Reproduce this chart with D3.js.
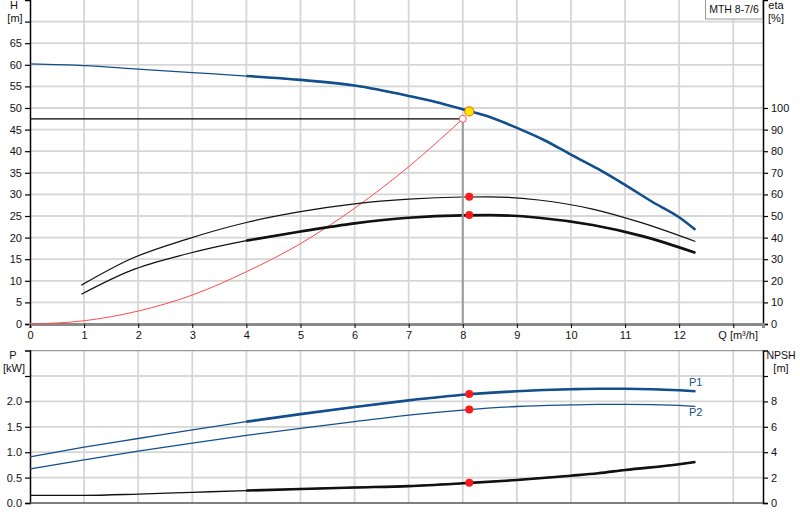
<!DOCTYPE html>
<html>
  <head>
    <title>MTH 8-7/6</title>
    <script src="https://d3js.org/d3.v7.min.js"></script>
    <style>
      body { margin: 0; background: #fff; }
      text { font-family: "Liberation Sans", Arial, sans-serif; font-size: 11px; fill: #111; }
      .grid line { stroke: #d6d6d6; stroke-width: 1.8; }
    </style>
  </head>
  <body>
    <svg width="800" height="520"></svg>
    <script>
      // pump head curve
      const qHead = [0, 1, 2, 3, 4, 5, 6, 7, 7.5, 8, 8.5, 9, 9.5, 10, 10.5, 11, 11.5, 12, 12.3];
      const head = [60.2, 59.8, 59.0, 58.2, 57.4, 56.5, 55.2, 52.8, 51.4, 49.7, 47.9, 45.4, 42.6, 39.2, 35.9, 32.2, 28.3, 24.7, 21.8];
      // efficiency curves [%]
      const qEta = [0.95, 1.85, 2.89, 4, 5, 6, 7, 8, 8.5, 9.4, 10.4, 11.3, 12.3];
      const etaPump = [18, 30, 39.2, 47, 52, 55.6, 57.8, 58.8, 58.9, 57.4, 53.2, 46.9, 38.2];
      const etaTotal = [13.8, 24.6, 32.4, 38.6, 42.8, 46.6, 49.2, 50.3, 50.4, 49.2, 45.8, 40.8, 33];
      // system curve
      const qSys = [0, 1, 2, 3, 4, 5, 6, 7, 8];
      const hSys = [0, 0.75, 3.0, 6.7, 12.1, 18.6, 26.8, 36.4, 47.5];
      // power and NPSH
      const qPow = [0, 1, 2, 3, 4, 5, 6, 7, 8, 9, 10, 10.5, 11, 12, 12.3];
      const p1 = [0.91, 1.10, 1.27, 1.44, 1.60, 1.75, 1.89, 2.02, 2.13, 2.20, 2.24, 2.25, 2.25, 2.22, 2.20];
      const p2 = [0.67, 0.85, 1.02, 1.18, 1.33, 1.47, 1.60, 1.73, 1.83, 1.90, 1.93, 1.94, 1.94, 1.92, 1.90];
      const npsh = [0.6, 0.6, 0.7, 0.84, 0.98, 1.1, 1.22, 1.33, 1.55, 1.81, 2.15, 2.34, 2.6, 3.05, 3.23];
      // duty point
      const dutyQ = 8.12, dutyH = 49.2, dutyEtaPump = 58.9, dutyEtaTotal = 50.5;
      const dutyP1 = 2.146, dutyP2 = 1.84, dutyNpsh = 1.6;
      const reqQ = 8.0, reqH = 47.5;
      const qTicks = d3.range(0, 13);
      const etaTicks = d3.range(0, 110, 10);
      const pTicks = [0, 0.5, 1, 1.5, 2];
      const npshTicks = [0, 2, 4, 6, 8];
      const thickFrom = 4;

      const blue = "#134f8d";
      const svg = d3.select("svg");
      const x = d3.scaleLinear().domain([0, 13.55]).range([30, 763]);
      const yH = d3.scaleLinear().domain([0, 75]).range([324, 0]);
      const yEta = d3.scaleLinear().domain([0, 150]).range([324, 0]);
      const yP = d3.scaleLinear().domain([0, 3]).range([503, 350.6]);
      const yN = d3.scaleLinear().domain([0, 12]).range([503, 350.6]);

      // grids
      function grid(yScale, yVals, y0, y1) {
        const g = svg.append("g").attr("class", "grid");
        g.selectAll(".v").data(d3.range(1, 14)).enter().append("line")
          .attr("x1", d => x(d)).attr("x2", d => x(d)).attr("y1", y0).attr("y2", y1);
        g.selectAll(".h").data(yVals).enter().append("line")
          .attr("x1", x(0)).attr("x2", 763).attr("y1", d => yScale(d)).attr("y2", d => yScale(d));
      }
      grid(yH, d3.range(5, 75, 5), 0, 324);
      grid(yP, [0.5, 1, 1.5, 2, 2.5], 350.6, 503);
      svg.append("line").attr("x1", 30).attr("x2", 763).attr("y1", 350.6).attr("y2", 350.6)
        .attr("stroke", "#999").attr("stroke-width", 1.2);

      // axes
      const axisH = svg.append("g").attr("transform", "translate(30,0)")
        .call(d3.axisLeft(yH).tickValues(d3.range(0, 75, 5)).tickSize(5).tickPadding(3)
          .tickFormat(d => d <= 65 ? d : ""));
      const axisEta = svg.append("g").attr("transform", "translate(763,0)")
        .call(d3.axisRight(yEta).tickValues(etaTicks).tickSize(5).tickPadding(3));
      const axisP = svg.append("g").attr("transform", "translate(30,0)")
        .call(d3.axisLeft(yP).tickValues([0, 0.5, 1, 1.5, 2, 2.5]).tickSize(5).tickPadding(3)
          .tickFormat(d => pTicks.includes(d) ? d3.format(".1f")(d) : ""));
      const axisN = svg.append("g").attr("transform", "translate(763,0)")
        .call(d3.axisRight(yN).tickValues([0, 2, 4, 6, 8, 10]).tickSize(5).tickPadding(3)
          .tickFormat(d => npshTicks.includes(d) ? d : ""));
      [axisH, axisEta, axisP, axisN].forEach(a => {
        a.select(".domain").attr("stroke", "#000").attr("stroke-width", 1.5);
        a.selectAll(".tick line").attr("stroke", "#000").attr("stroke-width", 1.2);
        a.selectAll("text").style("font-size", "11px").attr("fill", "#111");
      });
      const axisQ = svg.append("g").attr("transform", "translate(0,324)")
        .call(d3.axisBottom(x).tickValues(d3.range(0, 14)).tickSize(4).tickPadding(3)
          .tickFormat(d => qTicks.includes(d) ? d : ""));
      axisQ.select(".domain").attr("stroke", "#8a8a8a").attr("stroke-width", 3);
      axisQ.selectAll(".tick line").attr("stroke", "#000");
      axisQ.selectAll("text").style("font-size", "11px").attr("fill", "#111");
      svg.append("line").attr("x1", 30).attr("x2", 763).attr("y1", 503).attr("y2", 503)
        .attr("stroke", "#555").attr("stroke-width", 1.5);

      // axis titles
      const label = (tx, ty, s, anchor) => svg.append("text").attr("x", tx).attr("y", ty)
        .attr("text-anchor", anchor || "middle").text(s);
      label(14, 9, "H"); label(15, 22, "[m]");
      label(776, 9, "eta"); label(776, 22, "[%]");
      label(13, 359, "P"); label(14, 372, "[kW]");
      label(781, 359, "NPSH").style("font-size", "10.5px"); label(781, 372, "[m]");
      label(758, 339, "Q [m³/h]", "end");

      // legend box
      svg.append("rect").attr("x", 705.5).attr("y", -1).attr("width", 57).attr("height", 20)
        .attr("fill", "#fff").attr("stroke", "#999");
      svg.append("text").attr("x", 734).attr("y", 13).attr("text-anchor", "middle")
        .attr("fill", "#333").style("font-size", "10.5px").text("MTH 8-7/6");

      // curves
      function curve(qs, vs, yScale, color, w, thickW) {
        const pts = qs.map((q, i) => [q, vs[i]]);
        const line = d3.line().x(d => x(d[0])).y(d => yScale(d[1])).curve(d3.curveMonotoneX);
        svg.append("path").attr("d", line(pts)).attr("fill", "none")
          .attr("stroke", color).attr("stroke-width", w);
        if (thickW) {
          svg.append("path").attr("d", line(pts.filter(d => d[0] >= thickFrom))).attr("fill", "none")
            .attr("stroke", color).attr("stroke-width", thickW);
        }
      }
      curve(qSys, hSys, yH, "#ff4a4a", 1);
      curve(qEta, etaPump, yEta, "#111", 1.2);
      curve(qEta, etaTotal, yEta, "#111", 1.2, 2.6);
      curve(qHead, head, yH, blue, 1.3, 2.6);
      curve(qPow, p1, yP, blue, 1.3, 2.6);
      curve(qPow, p2, yP, blue, 1.3);
      curve(qPow, npsh, yN, "#111", 1.3, 2.6);

      // duty point lines
      svg.append("line").attr("x1", x(0)).attr("x2", x(reqQ)).attr("y1", yH(reqH)).attr("y2", yH(reqH))
        .attr("stroke", "#000").attr("stroke-width", 1.2);
      svg.append("line").attr("x1", x(reqQ)).attr("x2", x(reqQ)).attr("y1", yH(reqH)).attr("y2", 324)
        .attr("stroke", "#9a9a9a").attr("stroke-width", 2);
      svg.append("circle").attr("cx", x(reqQ)).attr("cy", yH(reqH)).attr("r", 3.5)
        .attr("fill", "#fff").attr("stroke", "#ff5050").attr("stroke-width", 1);

      const dots = [[dutyEtaPump, yEta], [dutyEtaTotal, yEta], [dutyP1, yP], [dutyP2, yP], [dutyNpsh, yN]];
      svg.selectAll(".dot").data(dots).enter().append("circle")
        .attr("cx", x(dutyQ)).attr("cy", d => d[1](d[0])).attr("r", 4).attr("fill", "#ff1a1a");
      svg.append("circle").attr("cx", x(dutyQ)).attr("cy", yH(dutyH)).attr("r", 4.5)
        .attr("fill", "#ffe600").attr("stroke", "#f08000").attr("stroke-width", 1.2);

      // power labels
      svg.append("text").attr("x", 689).attr("y", 386).text("P1").style("fill", blue);
      svg.append("text").attr("x", 689).attr("y", 416).text("P2").style("fill", blue);
    </script>
  </body>
</html>
